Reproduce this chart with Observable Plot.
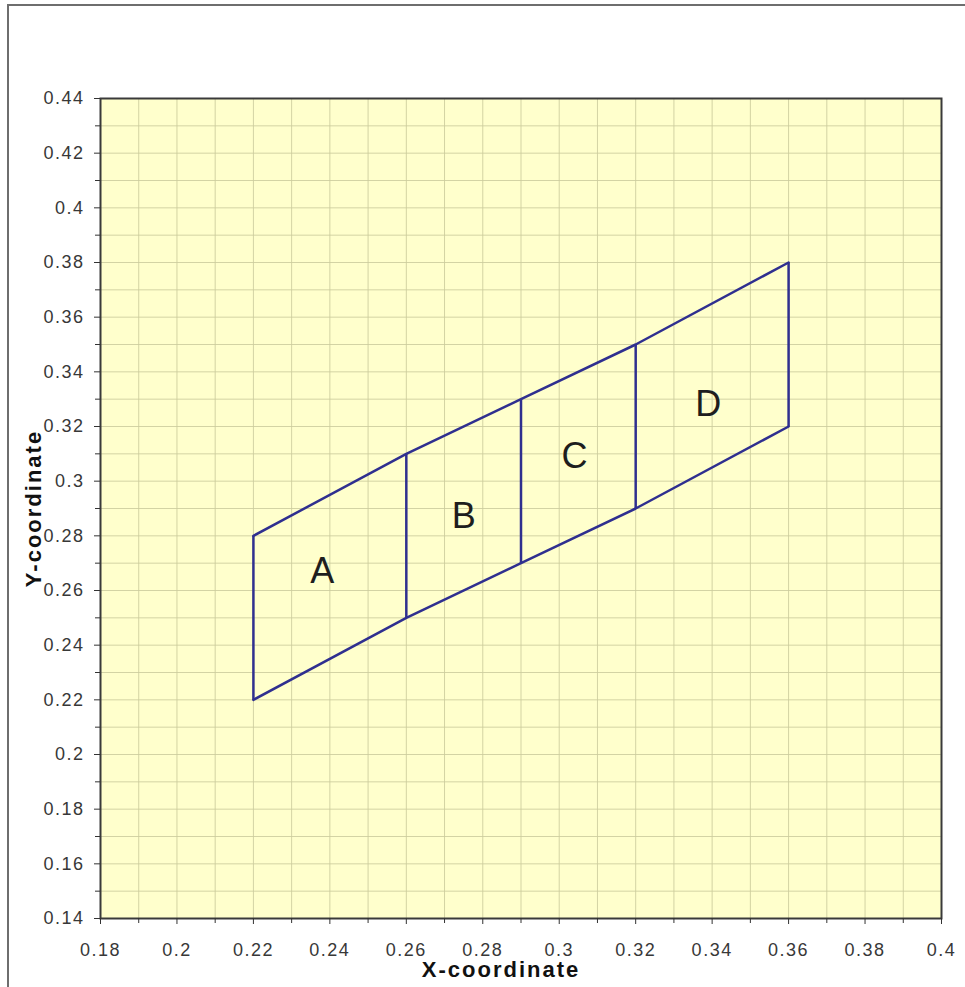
<!DOCTYPE html>
<html>
<head>
<meta charset="utf-8">
<script src="https://cdn.jsdelivr.net/npm/d3@7"></script>
<script src="https://cdn.jsdelivr.net/npm/@observablehq/plot@0.6"></script>
<style>
  html, body { margin: 0; padding: 0; background: #fff; overflow: hidden; }
  #wrap { position: relative; width: 965px; height: 987px; overflow: hidden; }
  #border { position: absolute; left: 7px; top: 4px; width: 1100px; height: 1100px;
            border-left: 2px solid #6e6e6e; border-top: 2px solid #6e6e6e; pointer-events: none; }
  #chart { position: absolute; left: 0; top: 0; }
  .tick-lbl text { letter-spacing: 1.5px; }
  .axis-title text { letter-spacing: 2px; }
</style>
</head>
<body>
<div id="wrap"><div id="chart"></div><div id="border"></div></div>
<script>
// Region boundary x positions and the top / bottom edge values at each
const xs      = [0.22, 0.26, 0.29, 0.32, 0.36];
const topY    = [0.28, 0.31, 0.33, 0.35, 0.38];
const bottomY = [0.22, 0.25, 0.27, 0.29, 0.32];

// Region labels
const regionNames = ["A", "B", "C", "D"];
const regionX     = [0.238, 0.275, 0.304, 0.339];
const regionY     = [0.267, 0.287, 0.309, 0.328];

// Axis ticks
const xMajor = [0.18, 0.2, 0.22, 0.24, 0.26, 0.28, 0.3, 0.32, 0.34, 0.36, 0.38, 0.4];
const xMinor = [0.19, 0.21, 0.23, 0.25, 0.27, 0.29, 0.31, 0.33, 0.35, 0.37, 0.39];
const yMajor = [0.14, 0.16, 0.18, 0.2, 0.22, 0.24, 0.26, 0.28, 0.3, 0.32, 0.34, 0.36, 0.38, 0.4, 0.42, 0.44];
const yMinor = [0.15, 0.17, 0.19, 0.21, 0.23, 0.25, 0.27, 0.29, 0.31, 0.33, 0.35, 0.37, 0.39, 0.41, 0.43];

const xGrid = xMajor.concat(xMinor);
const yGrid = yMajor.concat(yMinor);

const topLine = xs.map((x, i) => ({x, y: topY[i]}));
const bottomLine = xs.map((x, i) => ({x, y: bottomY[i]}));
const dividers = xs.map((x, i) => ({x, y1: bottomY[i], y2: topY[i]}));
const labels = regionNames.map((t, i) => ({t, x: regionX[i], y: regionY[i]}));

const fmt = d3.format("~g");
const lineColor = "#2f2f8f";

const chart = Plot.plot({
  width: 965,
  height: 987,
  marginLeft: 100,
  marginRight: 24,
  marginTop: 98,
  marginBottom: 69,
  x: {domain: [0.18, 0.4]},
  y: {domain: [0.14, 0.44]},
  style: {fontFamily: "Arial, 'Liberation Sans', sans-serif", fontSize: "18px", color: "#333", background: "transparent"},
  marks: [
    Plot.frame({fill: "#ffffcc", stroke: null}),
    Plot.gridX(xGrid, {stroke: "#cbcb9c", strokeOpacity: 0.85, strokeWidth: 1}),
    Plot.gridY(yGrid, {stroke: "#cbcb9c", strokeOpacity: 0.85, strokeWidth: 1}),
    Plot.frame({stroke: "#3a3a3a", strokeWidth: 2}),
    Plot.axisX(xMajor, {tickSize: 6, tickPadding: 19, tickFormat: fmt, stroke: "#333", fill: "#383838", label: null, fontSize: 18, className: "tick-lbl"}),
    Plot.axisX(xMinor, {tickSize: 5, tickFormat: () => "", stroke: "#333", label: null}),
    Plot.axisY(yMajor, {tickSize: 6, tickPadding: 10, tickFormat: fmt, stroke: "#333", fill: "#383838", label: null, fontSize: 18, className: "tick-lbl"}),
    Plot.axisY(yMinor, {tickSize: 5, tickFormat: () => "", stroke: "#333", label: null}),
    Plot.line(topLine, {x: "x", y: "y", stroke: lineColor, strokeWidth: 2.5}),
    Plot.line(bottomLine, {x: "x", y: "y", stroke: lineColor, strokeWidth: 2.5}),
    Plot.link(dividers, {x1: "x", x2: "x", y1: "y1", y2: "y2", stroke: lineColor, strokeWidth: 2.5}),
    Plot.text(labels, {x: "x", y: "y", text: "t", fontSize: 36, fill: "#1e1e1e"}),
    Plot.text(["X-coordinate"], {frameAnchor: "bottom", dx: -20, dy: 58, fontSize: 22, fontWeight: "bold", fill: "#111", className: "axis-title"}),
    Plot.text(["Y-coordinate"], {frameAnchor: "left", dx: -67, rotate: -90, textAnchor: "middle", fontSize: 22, fontWeight: "bold", fill: "#111", className: "axis-title"})
  ]
});
document.getElementById("chart").appendChild(chart);
</script>
</body>
</html>
